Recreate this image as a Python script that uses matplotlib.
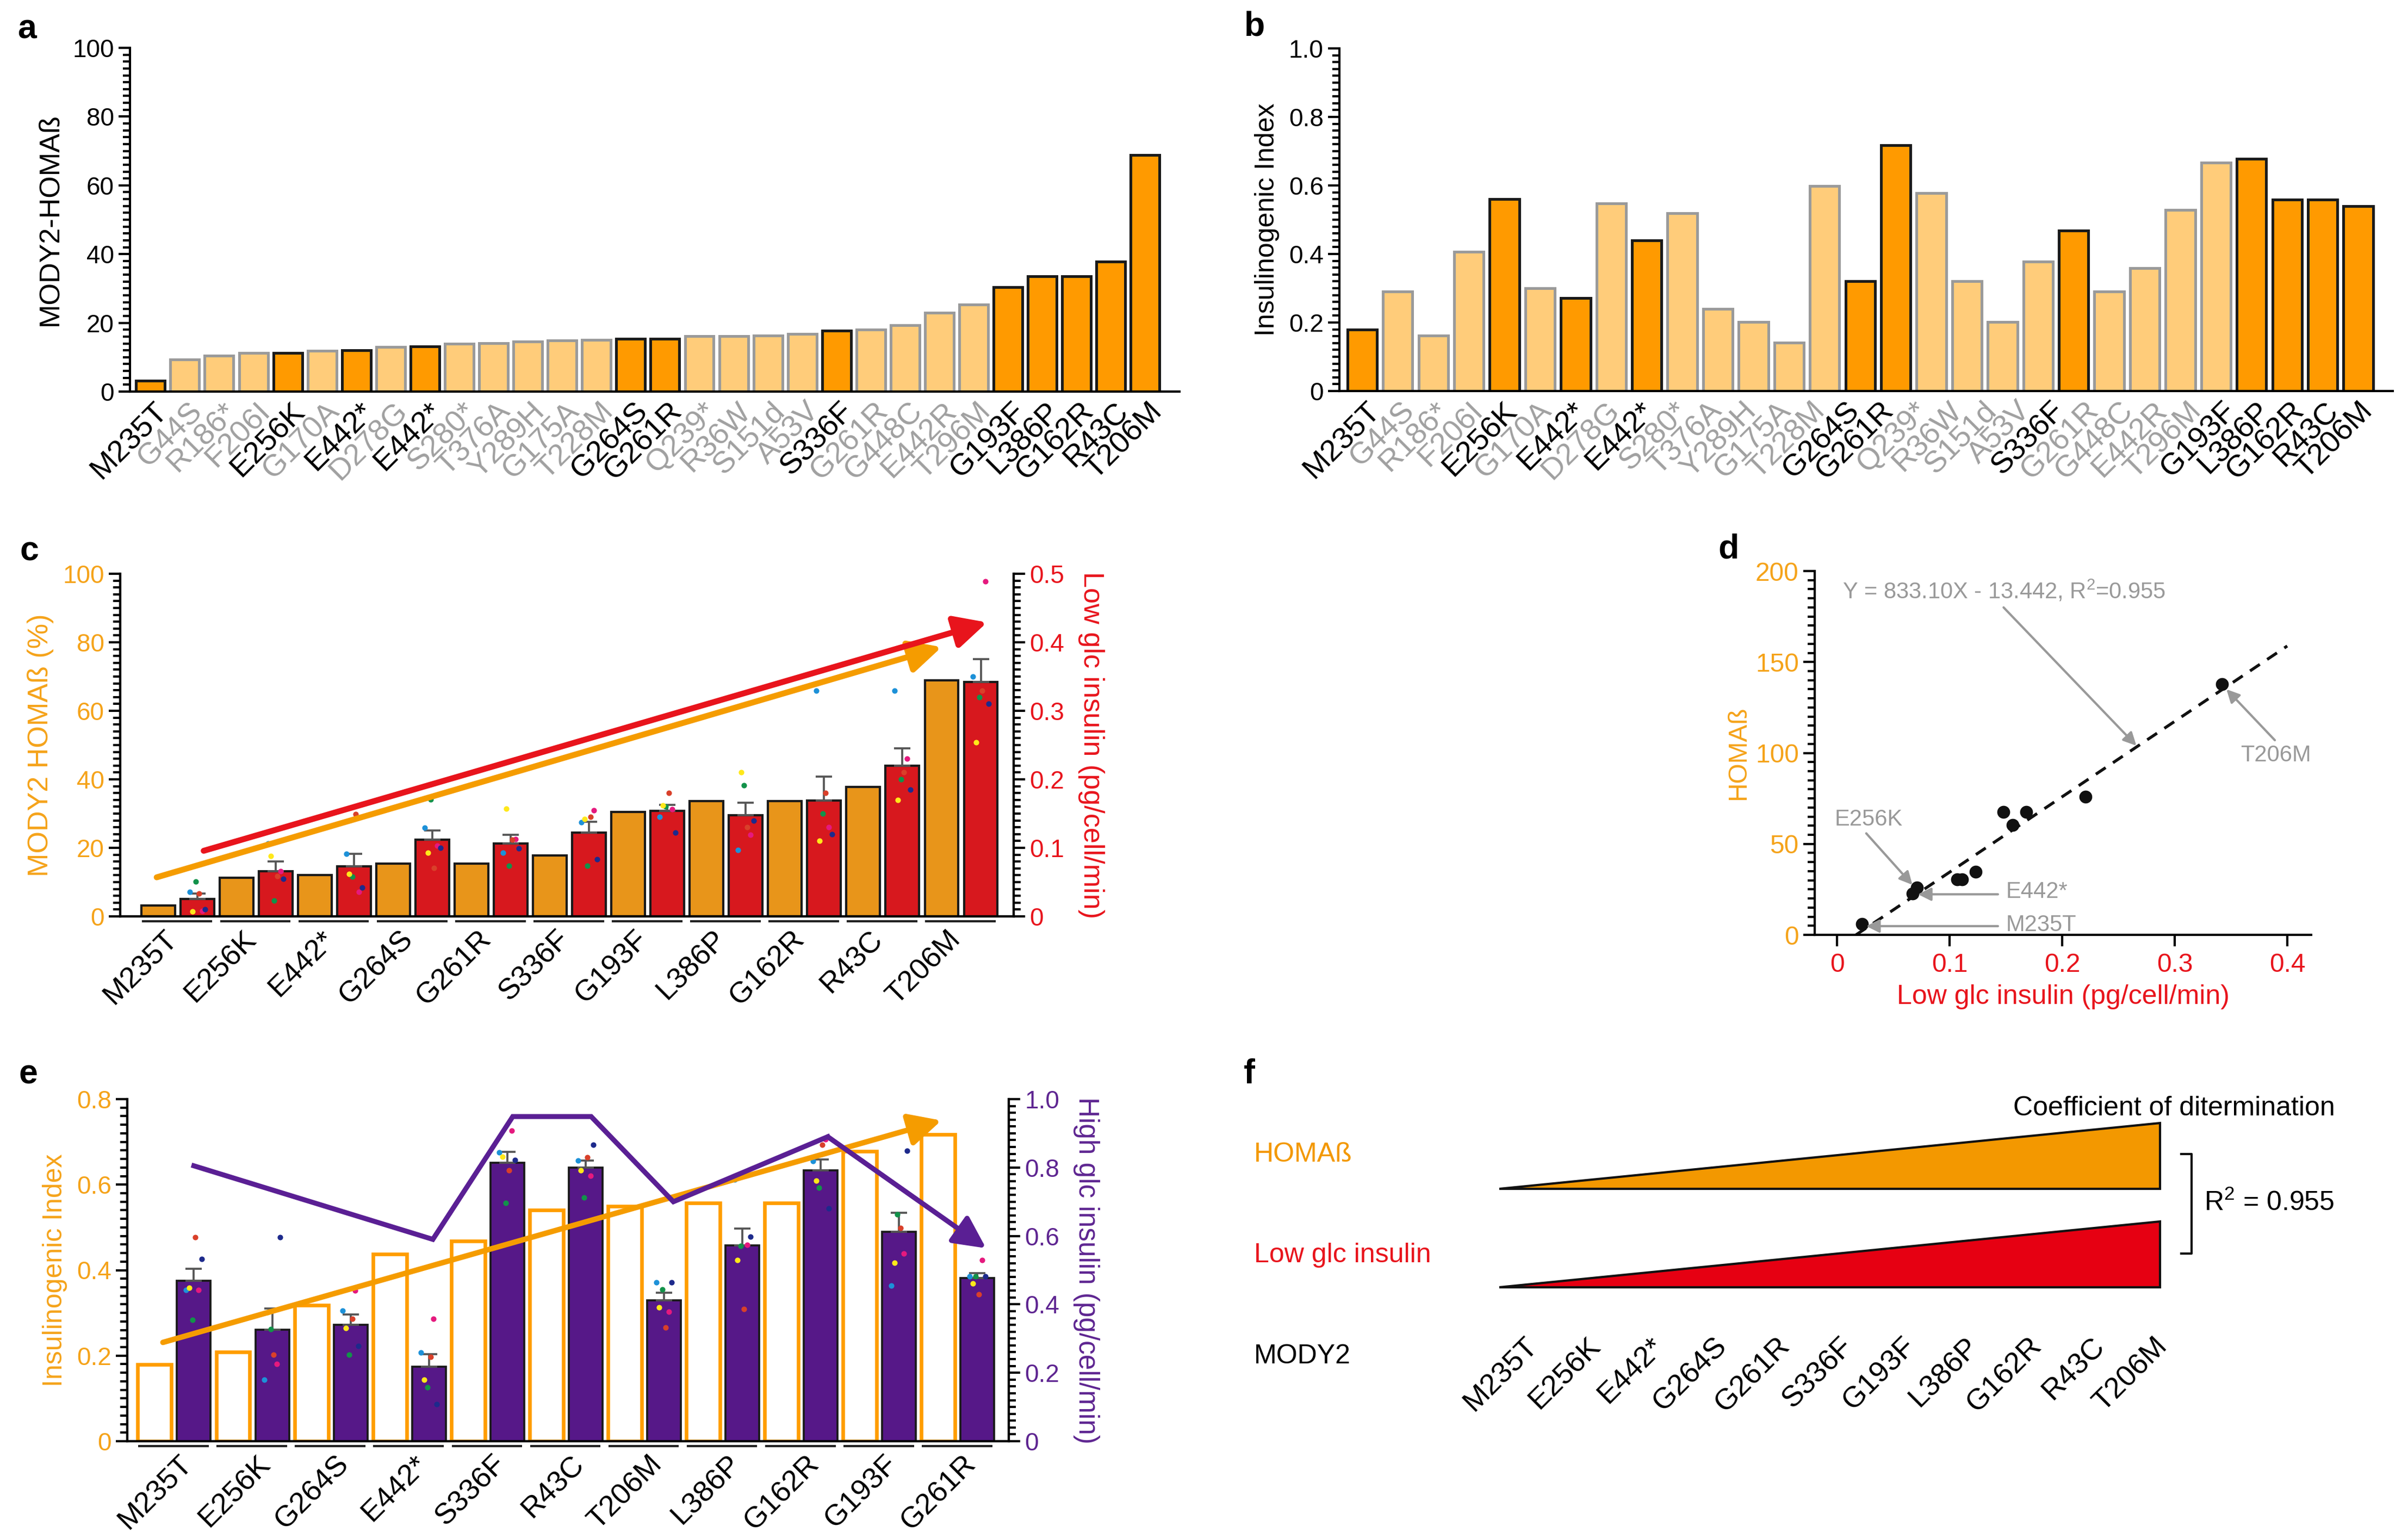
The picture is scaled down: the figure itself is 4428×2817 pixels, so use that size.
import numpy as np
import matplotlib
matplotlib.use("Agg")
import matplotlib.pyplot as plt
from matplotlib.patches import Polygon

# ---------------- data ----------------
variants_a = ["M235T", "G44S", "R186*", "F206I", "E256K", "G170A", "E442*", "D278G", "E442*", "S280*",
              "T376A", "Y289H", "G175A", "T228M", "G264S", "G261R", "Q239*", "R36W", "S151d", "A53V",
              "S336F", "G261R", "G448C", "E442R", "T296M", "G193F", "L386P", "G162R", "R43C", "T206M"]
mody2_a = [1, 0, 0, 0, 1, 0, 1, 0, 1, 0, 0, 0, 0, 0, 1, 1, 0, 0, 0, 0, 1, 0, 0, 0, 0, 1, 1, 1, 1, 1]
homa_a = [3.2, 9.4, 10.4, 11.3, 11.3, 11.9, 12.1, 13.0, 13.2, 14.0, 14.1, 14.6, 14.8, 15.1, 15.4, 15.4,
          16.1, 16.1, 16.3, 16.7, 17.7, 18.1, 19.3, 23.0, 25.3, 30.4, 33.6, 33.6, 37.8, 68.9]

# panel b has one bar less than labels (T206M bar missing in the original)
insidx_b = [0.180, 0.290, 0.162, 0.407, 0.560, 0.300, 0.271, 0.548, 0.440, 0.519, 0.239, 0.201, 0.141,
            0.599, 0.320, 0.717, 0.578, 0.321, 0.201, 0.377, 0.469, 0.290, 0.358, 0.528, 0.667, 0.677,
            0.558, 0.558, 0.539]
mody2_b = [1, 0, 0, 0, 1, 0, 1, 0, 1, 0, 0, 0, 0, 0, 1, 1, 0, 0, 0, 0, 1, 0, 0, 0, 0, 1, 1, 1, 1]

variants_c = ["M235T", "E256K", "E442*", "G264S", "G261R", "S336F", "G193F", "L386P", "G162R", "R43C", "T206M"]
homa_c = [3.2, 11.3, 12.1, 15.4, 15.4, 17.7, 30.4, 33.6, 33.6, 37.8, 68.9]
low_c = [0.025, 0.066, 0.073, 0.112, 0.106, 0.122, 0.154, 0.148, 0.169, 0.220, 0.342]
low_sem = [0.008, 0.014, 0.018, 0.013, 0.013, 0.016, 0.009, 0.018, 0.035, 0.025, 0.033]
# dots: blue, green, yellow, magenta, navy, red
low_dots = [
    [0.036, 0.051, 0.007, 0.008, 0.010, 0.033],
    [0.106, 0.023, 0.088, 0.066, 0.055, 0.059],
    [0.091, 0.058, 0.062, 0.036, 0.042, 0.149],
    [0.129, 0.171, 0.093, 0.103, 0.100, 0.071],
    [0.093, 0.074, 0.157, 0.113, 0.099, 0.112],
    [0.137, 0.074, 0.142, 0.155, 0.083, 0.145],
    [0.145, 0.160, 0.162, 0.156, 0.122, 0.180],
    [0.097, 0.191, 0.210, 0.119, 0.140, 0.130],
    [0.329, 0.150, 0.110, 0.130, 0.120, 0.180],
    [0.329, 0.200, 0.170, 0.230, 0.185, 0.210],
    [0.350, 0.320, 0.254, 0.489, 0.310, 0.329],
]

d_x = [0.022, 0.067, 0.071, 0.107, 0.111, 0.123, 0.148, 0.156, 0.168, 0.221, 0.342]
d_y = [6.0, 22.7, 26.1, 30.4, 30.4, 34.8, 67.5, 60.4, 67.5, 75.9, 137.9]

variants_e = ["M235T", "E256K", "G264S", "E442*", "S336F", "R43C", "T206M", "L386P", "G162R", "G193F", "G261R"]
ins_e = [0.179, 0.208, 0.318, 0.437, 0.468, 0.540, 0.549, 0.557, 0.557, 0.678, 0.717]
high_e = [0.469, 0.326, 0.340, 0.218, 0.814, 0.800, 0.412, 0.572, 0.792, 0.612, 0.477]
high_sem = [0.035, 0.062, 0.030, 0.037, 0.032, 0.021, 0.022, 0.049, 0.032, 0.056, 0.015]
high_dots = [
    [0.442, 0.355, 0.449, 0.442, 0.532, 0.596],
    [0.179, 0.328, 0.376, 0.226, 0.596, 0.253],
    [0.381, 0.252, 0.330, 0.440, 0.279, 0.357],
    [0.259, 0.158, 0.179, 0.357, 0.108, 0.247],
    [0.844, 0.697, 0.832, 0.907, 0.822, 0.791],
    [0.821, 0.712, 0.791, 0.776, 0.867, 0.830],
    [0.465, 0.444, 0.391, 0.379, 0.465, 0.333],
    [0.765, 0.571, 0.530, 0.574, 0.597, 0.387],
    [0.819, 0.741, 0.762, 0.883, 0.681, 0.867],
    [0.455, 0.663, 0.521, 0.548, 0.849, 0.623],
    [0.481, 0.481, 0.461, 0.530, 0.481, 0.430],
]
# hand drawn purple trend in e (group position, high glc value)
trend_x = [0.25, 3.30, 4.32, 5.32, 6.37, 8.34]
trend_v = [0.805, 0.590, 0.949, 0.949, 0.700, 0.890]
trend_end = (10.36, 0.564)

variants_f = ["M235T", "E256K", "E442*", "G264S", "G261R", "S336F", "G193F", "L386P", "G162R", "R43C", "T206M"]

# ---------------- style ----------------
DARK = '#FF9A00'
LIGHT = '#FFCC7A'
C_OR = '#E8951A'
RED_BAR = '#D7181E'
OR_TXT = '#F5A31A'
RED_TXT = '#E8141C'
PURPLE = '#561888'
PURPLE_TXT = '#5E2591'
GREY = '#A0A0A0'
dot_cols = ['#1D91D8', '#12924A', '#FFE81A', '#E5197E', '#1D2A8C', '#D9402A']
dot_dx = [-0.10, -0.02, -0.06, 0.06, 0.10, 0.02]

plt.rcParams['font.family'] = ['Liberation Sans', 'DejaVu Sans']
plt.rcParams['mathtext.default'] = 'regular'
plt.rcParams['axes.linewidth'] = 1.0

W, H = 4428, 2817
fig = plt.figure(figsize=(W / 300, H / 300), dpi=300)


def px_axes(x0, y0, x1, y1):
    return fig.add_axes([x0 / W, 1 - y1 / H, (x1 - x0) / W, (y1 - y0) / H])


def yticks(ax, major, minor, top, labels, color='black', size=11):
    ax.set_ylim(0, top)
    ax.set_yticks(np.arange(0, top + 1e-9, major))
    ax.set_yticks(np.arange(0, top + 1e-9, minor), minor=True)
    ax.set_yticklabels(labels)
    ax.tick_params(axis='y', which='major', length=5, width=1.0, labelsize=size, labelcolor=color, pad=2)
    ax.tick_params(axis='y', which='minor', length=3.2, width=1.0)


def letter(x, y, s):
    fig.text(x / W, 1 - y / H, s, fontsize=15, fontweight='bold', ha='center', va='center')


def xlabels(ax, pos, names, size, pad):
    ax.set_xticks(pos)
    ax.set_xticklabels(names, rotation=45, ha='right', va='top', rotation_mode='anchor', fontsize=size)
    ax.tick_params(axis='x', length=0, pad=pad)


# ---------------- a ----------------
ax = px_axes(239, 88, 2169, 720)
xa = np.arange(len(homa_a))
ax.bar(xa, homa_a, width=0.84, color=[DARK if m else LIGHT for m in mody2_a],
       edgecolor=['#1a1a1a' if m else '#9a9a9a' for m in mody2_a], linewidth=1.2)
ax.set_xlim(-0.60, 30.0)
yticks(ax, 20, 2, 100, ['0', '20', '40', '60', '80', '100'])
xlabels(ax, xa + 0.08, variants_a, 13.5, 2.5)
for lab, m in zip(ax.get_xticklabels(), mody2_a):
    lab.set_color('black' if m else GREY)
ax.spines['top'].set_visible(False)
ax.spines['right'].set_visible(False)
ax.set_ylabel('MODY2-HOMAß', fontsize=12.5, labelpad=4)
letter(49, 54, 'a')

# ---------------- b ----------------
ax = px_axes(2463, 89, 4400, 719)
xb = np.arange(len(insidx_b))
ax.bar(xb, insidx_b, width=0.83, color=[DARK if m else LIGHT for m in mody2_b],
       edgecolor=['#1a1a1a' if m else '#9a9a9a' for m in mody2_b], linewidth=1.2)
ax.set_xlim(-0.64, 28.97)
yticks(ax, 0.2, 0.02, 1.0, ['0', '0.2', '0.4', '0.6', '0.8', '1.0'])
xlabels(ax, np.linspace(0.1, xb[-1], len(variants_a)), variants_a, 13.5, 2.5)
for lab, m in zip(ax.get_xticklabels(), mody2_a):
    lab.set_color('black' if m else GREY)
ax.spines['top'].set_visible(False)
ax.spines['right'].set_visible(False)
ax.set_ylabel('Insulinogenic Index', fontsize=12, labelpad=4)
letter(2307, 49, 'b')


def group_lines(ax, n, ybelow):
    for i in range(n):
        ax.plot([i - 0.46, i + 0.44], [ybelow, ybelow], transform=ax.get_xaxis_transform(),
                color='#222222', lw=1.0, clip_on=False, solid_capstyle='butt')


# ---------------- c ----------------
axc = px_axes(221, 1055, 1864, 1685)
axc2 = axc.twinx()
g = np.arange(len(variants_c))
axc.bar(g - 0.25, homa_c, width=0.43, color=C_OR, edgecolor='#1a1a1a', linewidth=1.0)
axc2.bar(g + 0.25, low_c, width=0.43, color=RED_BAR, edgecolor='#1a1a1a', linewidth=1.0,
         yerr=[np.zeros(len(g)), low_sem],
         error_kw=dict(ecolor='#555555', elinewidth=0.9, capsize=3.5, capthick=0.9), zorder=2)
dots = np.array(low_dots)
for k, col in enumerate(dot_cols):
    axc2.scatter(g + 0.25 + dot_dx[k], dots[:, k], s=6, color=col, linewidths=0, zorder=4)
axc.set_xlim(-0.736, 10.67)
yticks(axc, 20, 2, 100, ['0', '20', '40', '60', '80', '100'], color=OR_TXT)
yticks(axc2, 0.1, 0.01, 0.5, ['0', '0.1', '0.2', '0.3', '0.4', '0.5'], color=RED_TXT)
xlabels(axc, g - 0.18, variants_c, 13, 4)
group_lines(axc, len(g), -0.014)
for a_ in (axc, axc2):
    a_.spines['top'].set_visible(False)
axc.set_ylabel('MODY2 HOMAß (%)', color=OR_TXT, fontsize=12.5, labelpad=4)
axc2.set_ylabel('Low glc insulin (pg/cell/min)', color=RED_TXT, fontsize=12.5, rotation=270,
                va='bottom', labelpad=6)
axc2.annotate('', xy=(9.75, 78.6), xytext=(-0.27, 11.4), xycoords=axc.transData, textcoords=axc.transData,
              arrowprops=dict(arrowstyle='-|>', color='#F59C00', lw=2.6, mutation_scale=30,
                              shrinkA=0, shrinkB=0), zorder=5)
axc2.annotate('', xy=(10.33, 0.429), xytext=(0.33, 0.0957),
              arrowprops=dict(arrowstyle='-|>', color='#E8141C', lw=2.6, mutation_scale=30,
                              shrinkA=0, shrinkB=0), zorder=5)
letter(54, 1014, 'c')

# ---------------- d ----------------
axd = px_axes(3337, 1050, 4250, 1719)
axd.scatter(d_x, d_y, s=22, color='#111111', zorder=3)
coef = np.polyfit(d_x, d_y, 1)
x0 = -coef[1] / coef[0]
xl = np.array([x0, 0.4])
axd.plot(xl, np.polyval(coef, xl), color='#111111', lw=1.3, ls=(0, (4, 3)), zorder=2)
axd.set_xlim(-0.0198, 0.4213)
yticks(axd, 50, 5, 200, ['0', '50', '100', '150', '200'], color=OR_TXT, size=11.5)
axd.set_xticks([0, 0.1, 0.2, 0.3, 0.4])
axd.set_xticklabels(['0', '0.1', '0.2', '0.3', '0.4'])
axd.tick_params(axis='x', length=5, width=1.0, labelsize=11.5, labelcolor=RED_TXT, pad=3)
axd.spines['top'].set_visible(False)
axd.spines['right'].set_visible(False)
axd.set_ylabel('HOMAß', color=OR_TXT, fontsize=11.5, labelpad=2)
axd.set_xlabel('Low glc insulin (pg/cell/min)', color=RED_TXT, fontsize=12, labelpad=3)
gprops = dict(arrowstyle='-|>', color='#999999', lw=1.0, mutation_scale=12, shrinkA=0, shrinkB=0)
axd.text(0.005, 189, 'Y = 833.10X - 13.442, R$^2$=0.955', color='#999999', fontsize=10, ha='left', va='center')
axd.annotate('', xy=(0.266, 104), xytext=(0.148, 180), arrowprops=gprops)
axd.text(0.39, 98.7, 'T206M', color='#999999', fontsize=10, ha='center', va='center', clip_on=False)
axd.annotate('', xy=(0.346, 135), xytext=(0.389, 107), arrowprops=gprops)
axd.text(0.028, 63.5, 'E256K', color='#999999', fontsize=10, ha='center', va='center')
axd.annotate('', xy=(0.067, 27.5), xytext=(0.026, 55.8), arrowprops=gprops)
axd.text(0.15, 23.5, 'E442*', color='#999999', fontsize=10, ha='left', va='center')
axd.annotate('', xy=(0.072, 22.3), xytext=(0.143, 22.3), arrowprops=gprops)
axd.text(0.15, 5.5, 'M235T', color='#999999', fontsize=10, ha='left', va='center')
axd.annotate('', xy=(0.026, 4.8), xytext=(0.143, 4.8), arrowprops=gprops)
letter(3178, 1010, 'd')

# ---------------- e ----------------
axe = px_axes(234, 2021, 1855, 2650)
axe2 = axe.twinx()
g = np.arange(len(variants_e))
axe.bar(g - 0.25, ins_e, width=0.43, color='white', edgecolor='#FF9D00', linewidth=1.6)
axe2.bar(g + 0.25, high_e, width=0.43, color=PURPLE, edgecolor='#1a1a1a', linewidth=0.9,
         yerr=[np.zeros(len(g)), high_sem],
         error_kw=dict(ecolor='#555555', elinewidth=0.9, capsize=3.5, capthick=0.9), zorder=2)
dots = np.array(high_dots)
for k, col in enumerate(dot_cols):
    axe2.scatter(g + 0.25 + dot_dx[k], dots[:, k], s=6, color=col, linewidths=0, zorder=4)
axe.set_xlim(-0.60, 10.65)
yticks(axe, 0.2, 0.02, 0.8, ['0', '0.2', '0.4', '0.6', '0.8'], color=OR_TXT)
yticks(axe2, 0.2, 0.02, 1.0, ['0', '0.2', '0.4', '0.6', '0.8', '1.0'], color=PURPLE_TXT)
xlabels(axe, g + 0.05, variants_e, 13, 4)
group_lines(axe, len(g), -0.014)
for a_ in (axe, axe2):
    a_.spines['top'].set_visible(False)
axe.set_ylabel('Insulinogenic Index', color=OR_TXT, fontsize=12, labelpad=4)
axe2.set_ylabel('High glc insulin (pg/cell/min)', color=PURPLE_TXT, fontsize=12.3, rotation=270,
                va='bottom', labelpad=6)
axe2.annotate('', xy=(9.79, 0.750), xytext=(-0.145, 0.231), xycoords=axe.transData, textcoords=axe.transData,
              arrowprops=dict(arrowstyle='-|>', color='#F59C00', lw=2.4, mutation_scale=30,
                              shrinkA=0, shrinkB=0), zorder=5)
axe2.plot(trend_x, trend_v, color='#5A1F94', lw=2.2, solid_joinstyle='miter', zorder=6)
axe2.annotate('', xy=trend_end, xytext=(trend_x[-1], trend_v[-1]),
              arrowprops=dict(arrowstyle='-|>', color='#5A1F94', lw=2.2, mutation_scale=30,
                              shrinkA=0, shrinkB=0), zorder=6)
letter(52, 1976, 'e')

# ---------------- f ----------------
axf = px_axes(2250, 1900, 4428, 2817)
axf.set_xlim(2250, 4428)
axf.set_ylim(2817, 1900)
axf.axis('off')
fx0, fx1 = 2757, 3972
for base, top, col in [(2186, 2065, '#F39800'), (2367, 2246, '#E60012')]:
    axf.add_patch(Polygon([[fx0, base], [fx1, top], [fx1, base]], closed=True,
                          facecolor=col, edgecolor='#111111', linewidth=1.0))
axf.text(2306, 2123, 'HOMAß', color='#F39800', fontsize=12, ha='left', va='center')
axf.text(2306, 2308, 'Low glc insulin', color=RED_TXT, fontsize=12, ha='left', va='center')
axf.text(2306, 2494, 'MODY2', color='black', fontsize=12, ha='left', va='center')
axf.text(4294, 2038, 'Coefficient of ditermination', fontsize=12, ha='right', va='center')
axf.plot([4011, 4030, 4030, 4011], [2122, 2122, 2305, 2305], color='#111111', lw=1.0)
axf.text(4053, 2212, 'R$^2$ = 0.955', fontsize=12, ha='left', va='center')
for xp, name in zip(np.linspace(2802, 3960, len(variants_f)), variants_f):
    axf.text(xp, 2450, name, fontsize=13, rotation=45, ha='right', va='top', rotation_mode='anchor')
letter(2297, 1975, 'f')

fig.savefig('out.png', dpi=300, facecolor='white')
